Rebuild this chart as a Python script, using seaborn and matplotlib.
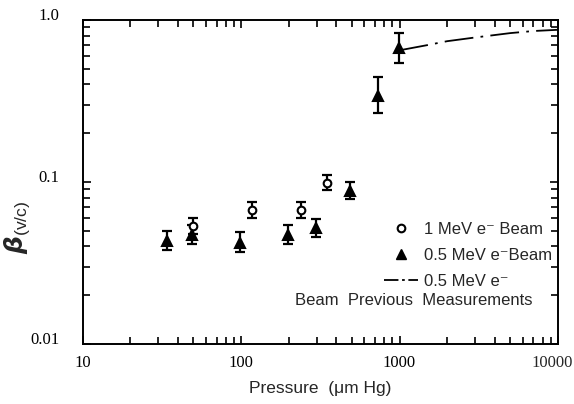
import numpy as np
import pandas as pd
import matplotlib
matplotlib.use("Agg")
import matplotlib.pyplot as plt
import seaborn as sns
from matplotlib.lines import Line2D
from matplotlib.ticker import LogLocator, FixedLocator, FixedFormatter, NullFormatter

# 1 MeV e- beam (open circles)
p_1mev = [50, 117, 238, 350]
b_1mev = [0.0535, 0.067, 0.067, 0.099]
lo_1mev = [0.0475, 0.060, 0.060, 0.089]
hi_1mev = [0.060, 0.075, 0.075, 0.111]

# 0.5 MeV e- beam (filled triangles)
p_05mev = [34, 49, 98, 198, 295, 485, 730, 990]
b_05mev = [0.043, 0.047, 0.042, 0.047, 0.052, 0.088, 0.34, 0.67]
lo_05mev = [0.038, 0.0415, 0.037, 0.0415, 0.0455, 0.078, 0.267, 0.542]
hi_05mev = [0.050, 0.054, 0.049, 0.054, 0.059, 0.100, 0.444, 0.828]

# previous measurements, 0.5 MeV e- beam (dash-dot line)
p_prev = [1000, 1500, 2000, 3000, 5000, 7000, 10000]
b_prev = [0.65, 0.70, 0.74, 0.78, 0.83, 0.855, 0.87]

x_ticks = [10, 100, 1000, 10000]
x_labels = ["10", "100", "1000", "10000"]
y_ticks = [0.01, 0.1, 1.0]
y_labels = ["0.01", "0.1", "1.0"]

df_1 = pd.DataFrame({"p": p_1mev, "b": b_1mev, "lo": lo_1mev, "hi": hi_1mev})
df_05 = pd.DataFrame({"p": p_05mev, "b": b_05mev, "lo": lo_05mev, "hi": hi_05mev})
df_prev = pd.DataFrame({"p": p_prev, "b": b_prev})

sns.set_style("ticks")
plt.rcParams["font.family"] = ["Liberation Sans", "DejaVu Sans"]
plt.rcParams["mathtext.fontset"] = "custom"
plt.rcParams["mathtext.it"] = "DejaVu Sans:italic:bold"
plt.rcParams["mathtext.rm"] = "Liberation Sans"

fig = plt.figure(figsize=(5.74, 4.04), dpi=100)
ax = fig.add_axes([0.144, 0.1485, 0.828, 0.802])

for df, mk, fc, ms in [(df_1, "o", "white", 5.5), (df_05, "^", "black", 7.5)]:
    yerr = np.vstack([df["b"] - df["lo"], df["hi"] - df["b"]])
    ax.errorbar(df["p"], df["b"], yerr=yerr, fmt="none", ecolor="black",
                elinewidth=1.6, capsize=3.5, capthick=1.6, zorder=2)
    ax.plot(df["p"], df["b"], linestyle="none", marker=mk, markersize=ms,
            markerfacecolor=fc, markeredgecolor="black", markeredgewidth=1.5, zorder=3)

sns.lineplot(data=df_prev, x="p", y="b", ax=ax, color="black", linewidth=1.3,
             linestyle=(0, (16, 4, 1.5, 4)), legend=False)

ax.set_xscale("log")
ax.set_yscale("log")
ax.set_xlim(10, 10000)
ax.set_ylim(0.01, 1.0)

# last x label is placed by hand so it is not cut at the figure edge
ax.xaxis.set_major_locator(FixedLocator(x_ticks))
ax.xaxis.set_major_formatter(FixedFormatter(x_labels[:-1] + [""]))
ax.yaxis.set_major_locator(FixedLocator(y_ticks))
ax.yaxis.set_major_formatter(FixedFormatter(y_labels))
ax.xaxis.set_minor_locator(LogLocator(base=10, subs=np.arange(2, 10), numticks=20))
ax.yaxis.set_minor_locator(LogLocator(base=10, subs=np.arange(2, 10), numticks=20))
ax.xaxis.set_minor_formatter(NullFormatter())
ax.yaxis.set_minor_formatter(NullFormatter())

ax.tick_params(which="both", direction="in", top=True, right=True, width=1.2,
               colors="black", labelsize=12, labelfontfamily="Liberation Serif")
ax.tick_params(which="major", length=6, pad=8)
ax.tick_params(axis="y", which="major", pad=17)
ax.tick_params(which="minor", length=5)
for lab in ax.get_yticklabels():
    lab.set_verticalalignment("baseline")
ax.annotate(x_labels[-1], xy=(x_ticks[-1], 0), xycoords=("data", "axes fraction"),
            xytext=(-4, -8), textcoords="offset points", ha="center", va="top",
            fontsize=12, family="Liberation Serif")
for sp in ax.spines.values():
    sp.set_linewidth(1.4)
    sp.set_color("black")

ax.set_xlabel("Pressure  (\u03bcm Hg)", fontsize=12.5, labelpad=7)
ax.set_ylabel(r"$\beta_{\mathrm{(v/c)}}$", fontsize=18)
ax.yaxis.set_label_coords(-0.106, 0.36)

handles = [
    Line2D([], [], linestyle="none", marker="o", markersize=5.5, markerfacecolor="white",
           markeredgecolor="black", markeredgewidth=1.5),
    Line2D([], [], linestyle="none", marker="^", markersize=7.5, color="black"),
    Line2D([], [], color="black", linewidth=1.3, linestyle=(0, (8, 2, 1.5, 2))),
]
labels = ["1 MeV e\u207b Beam", "0.5 MeV e\u207bBeam", "0.5 MeV e\u207b"]
ax.legend(handles, labels, loc="lower right", bbox_to_anchor=(1.02, 0.125),
          frameon=False, fontsize=12, handlelength=2.0, handletextpad=0.4,
          labelspacing=0.66, markerfirst=True)
ax.text(0.946, 0.135, "Beam  Previous  Measurements", transform=ax.transAxes,
        ha="right", va="center", fontsize=12)

fig.savefig("out.png", dpi=100)
